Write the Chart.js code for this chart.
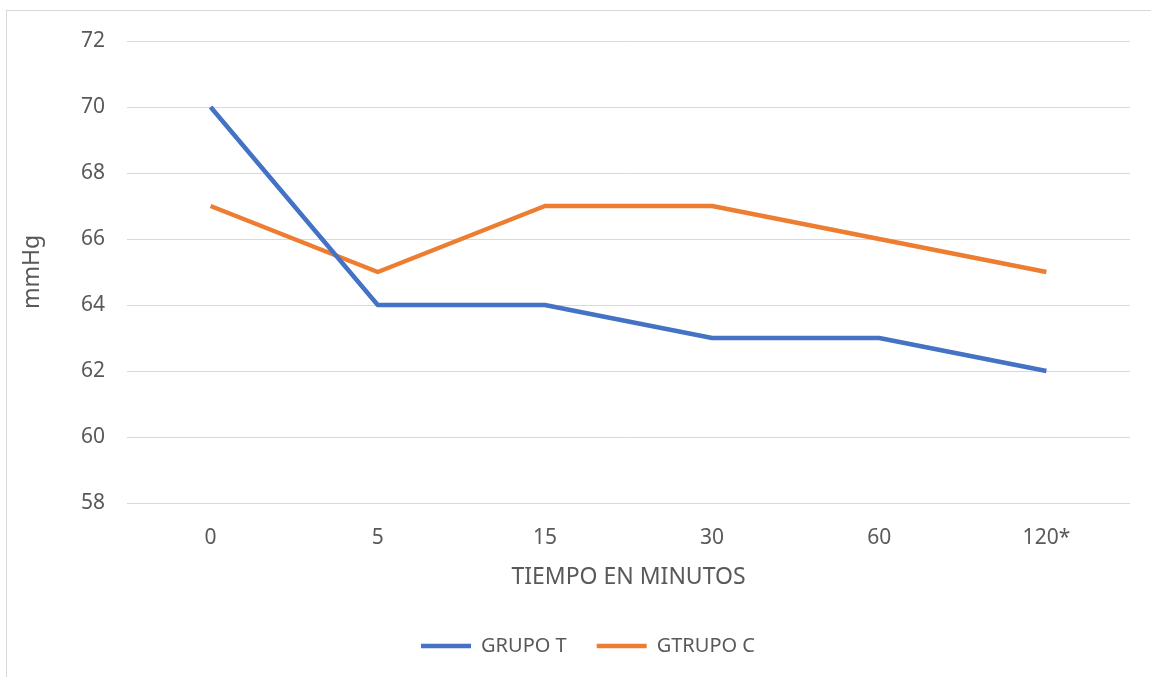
<!DOCTYPE html>
<html>
<head>
<meta charset="utf-8">
<script src="https://cdn.jsdelivr.net/npm/chart.js@4/dist/chart.umd.min.js"></script>
<style>
  html, body { margin: 0; padding: 0; background: #ffffff; overflow: hidden; }
  #frame {
    position: absolute; left: 6px; top: 10px;
    width: 1200px; height: 720px;
    border: 1.5px solid #d9d9d9; box-sizing: border-box;
  }
  #wrap { position: absolute; left: 0; top: 0; width: 1151px; height: 677px; }
</style>
</head>
<body>
<div id="frame"></div>
<div id="wrap"><canvas id="chart" width="1151" height="677"></canvas></div>
<script>
// Tiempo (minutos) y presión en mmHg por grupo
const categories = ['0', '5', '15', '30', '60', '120*'];
const grupoT = [70, 64, 64, 63, 63, 62];
const grupoC = [67, 65, 67, 67, 66, 65];
const yTicks = [58, 60, 62, 64, 66, 68, 70, 72];

const TEXT = '#595959';
const GRID = '#d9d9d9';
const FONT = '"Noto Sans", "Open Sans", sans-serif';

// nudges the legend row toward the centre of the plot
const legendShift = {
  id: 'legendShift',
  afterLayout(chart) {
    const lg = chart.legend;
    if (lg) { lg.left += 19; lg.right += 19; }
  }
};

new Chart(document.getElementById('chart'), {
  type: 'line',
  data: {
    labels: categories,
    datasets: [
      {
        label: 'GRUPO T',
        data: grupoT,
        borderColor: '#4472C4',
        backgroundColor: '#4472C4',
        borderWidth: 4.5,
        pointRadius: 0,
        pointHoverRadius: 0,
        tension: 0,
        borderJoinStyle: 'round'
      },
      {
        label: 'GTRUPO C',
        data: grupoC,
        borderColor: '#ED7D31',
        backgroundColor: '#ED7D31',
        borderWidth: 4.5,
        pointRadius: 0,
        pointHoverRadius: 0,
        tension: 0,
        borderJoinStyle: 'round'
      }
    ]
  },
  options: {
    responsive: false,
    animation: false,
    devicePixelRatio: 1,
    layout: { padding: { left: 8, right: 21, top: 41, bottom: 11 } },
    plugins: {
      tooltip: { enabled: false },
      legend: {
        position: 'bottom',
        labels: {
          usePointStyle: true,
          pointStyle: 'line',
          pointStyleWidth: 50,
          padding: 30,
          color: TEXT,
          font: { family: FONT, size: 20 }
        }
      }
    },
    scales: {
      x: {
        offset: true,
        grid: { display: false },
        border: { display: false },
        ticks: {
          color: TEXT,
          padding: 14,
          font: { family: FONT, size: 21 }
        },
        title: {
          display: true,
          text: 'TIEMPO EN MINUTOS',
          color: TEXT,
          font: { family: FONT, size: 23 },
          padding: { top: 8, bottom: 15 }
        },
        afterFit(scale) { scale.height = 103; }
      },
      y: {
        min: 58,
        max: 72,
        afterBuildTicks(scale) {
          scale.ticks = yTicks.map(v => ({ value: v }));
        },
        grid: { color: GRID, lineWidth: 1, drawTicks: false },
        border: { display: false },
        ticks: {
          color: TEXT,
          padding: 22,
          font: { family: FONT, size: 21 }
        },
        title: {
          display: true,
          text: 'mmHg',
          color: TEXT,
          font: { family: FONT, size: 23 },
          padding: { top: 11, bottom: 0 }
        },
        afterFit(scale) { scale.width = 119; }
      }
    }
  },
  plugins: [legendShift]
});
</script>
</body>
</html>
